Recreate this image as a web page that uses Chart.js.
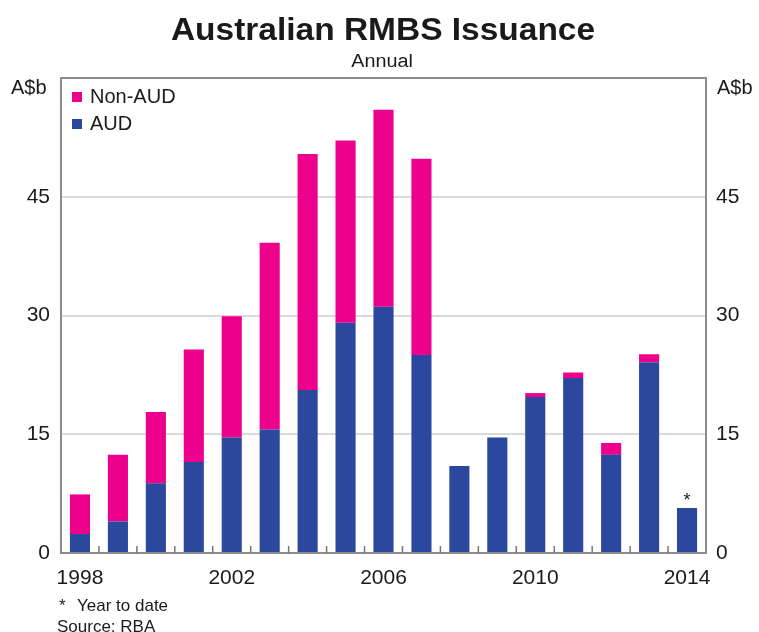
<!DOCTYPE html>
<html>
<head>
<meta charset="utf-8">
<script src="https://cdn.jsdelivr.net/npm/chart.js@4.4.1/dist/chart.umd.min.js"></script>
<style>
body{margin:0;background:#fff;}
#wrap{width:759px;height:632px;}
</style>
</head>
<body>
<div id="wrap"><canvas id="myChart"></canvas></div>
<script>
var years = ['1998','1999','2000','2001','2002','2003','2004','2005','2006','2007','2008','2009','2010','2011','2012','2013','2014'];
var aud = [2.4, 4.0, 8.8, 11.5, 14.6, 15.6, 20.6, 29.1, 31.1, 25.0, 11.0, 14.6, 19.7, 22.1, 12.4, 24.1, 5.7];
var nonAud = [5.0, 8.4, 9.0, 14.2, 15.3, 23.6, 29.8, 23.0, 24.9, 24.8, 0, 0, 0.5, 0.7, 1.5, 1.0, 0];
var yTicks = [0, 15, 30, 45, 60];
var shownYears = ['1998','2002','2006','2010','2014'];

var FONT = '"Liberation Sans", Arial, sans-serif';
var PINK = '#ec008c';
var BLUE = '#2b479e';

// title, unit labels, legend, frame, small inside ticks, footnotes
var extras = {
  id: 'extras',
  afterDraw: function(chart) {
    var c = chart.ctx;
    var a = chart.chartArea;
    var xs = chart.scales.x;
    var ys = chart.scales.y;
    c.save();
    c.fillStyle = '#1a1a1a';
    c.textAlign = 'center';
    c.textBaseline = 'middle';
    // reference text is a bit wider than Arial, stretch it slightly
    c.save();
    c.translate(383, 31);
    c.scale(1.08, 1);
    c.font = 'bold 31px ' + FONT;
    c.fillText('Australian RMBS Issuance', 0, 0);
    c.restore();
    c.save();
    c.translate(382, 62);
    c.scale(1.1, 1);
    c.font = '18px ' + FONT;
    c.fillText('Annual', 0, 0);
    c.restore();

    c.font = '20px ' + FONT;
    c.textAlign = 'left';
    c.fillText('A$b', 11, 88);
    c.fillText('A$b', 717, 88);

    // legend, pink first
    var items = [[chart.data.datasets[1].label, PINK], [chart.data.datasets[0].label, BLUE]];
    items.forEach(function(it, k) {
      var ly = 97 + k * 27;
      c.fillStyle = it[1];
      c.fillRect(72, ly - 5, 10, 10);
      c.fillStyle = '#1a1a1a';
      c.fillText(it[0], 90, ly);
    });

    // frame
    c.strokeStyle = '#8c8c8c';
    c.lineWidth = 2;
    c.strokeRect(a.left, a.top, a.right - a.left, a.bottom - a.top);

    // tick marks between the bars
    c.lineWidth = 1.5;
    c.strokeStyle = '#777';
    for (var i = 0; i < years.length - 1; i++) {
      var px = (xs.getPixelForValue(i) + xs.getPixelForValue(i + 1)) / 2;
      c.beginPath();
      c.moveTo(px, a.bottom);
      c.lineTo(px, a.bottom - 7);
      c.stroke();
    }

    // year-to-date star over last bar
    var last = years.length - 1;
    c.font = '18px ' + FONT;
    c.textAlign = 'center';
    c.fillText('*', xs.getPixelForValue(last), ys.getPixelForValue(aud[last] + nonAud[last]) - 7);

    // footnotes
    c.font = '17px ' + FONT;
    c.textAlign = 'left';
    c.fillText('*', 59, 606);
    c.fillText('Year to date', 77, 606);
    c.fillText('Source: RBA', 57, 627);
    c.restore();
  }
};

var ctx = document.getElementById('myChart').getContext('2d');
var myChart = new Chart(ctx, {
  type: 'bar',
  data: {
    labels: years,
    datasets: [{
      label: 'AUD',
      data: aud,
      backgroundColor: BLUE
    }, {
      label: 'Non-AUD',
      data: nonAud,
      backgroundColor: PINK
    }]
  },
  options: {
    responsive: true,
    maintainAspectRatio: false,
    animation: false,
    layout: { padding: { top: 78, left: 0, right: 0, bottom: 0 } },
    datasets: { bar: { barPercentage: 0.53, categoryPercentage: 1.0 } },
    plugins: {
      legend: { display: false },
      tooltip: { enabled: false }
    },
    scales: {
      x: {
        stacked: true,
        grid: { display: false, drawTicks: false },
        border: { display: false },
        ticks: {
          autoSkip: false,
          maxRotation: 0,
          padding: 13,
          color: '#1a1a1a',
          font: { family: FONT, size: 21 },
          callback: function(v, i) {
            return shownYears.indexOf(years[i]) >= 0 ? years[i] : '';
          }
        },
        afterFit: function(s) { s.height = 79; }
      },
      y: {
        stacked: true,
        position: 'left',
        min: 0,
        max: 60,
        afterBuildTicks: function(s) { s.ticks = yTicks.map(function(v) { return { value: v }; }); },
        grid: {
          drawTicks: false,
          lineWidth: 2,
          color: function(c) {
            return (c.tick && (c.tick.value === 0 || c.tick.value === 60)) ? 'rgba(0,0,0,0)' : '#dadada';
          }
        },
        border: { display: false },
        ticks: {
          padding: 11,
          color: '#1a1a1a',
          font: { family: FONT, size: 21 },
          callback: function(v) { return v === 60 ? '' : v; }
        },
        afterFit: function(s) { s.width = 61; }
      },
      y2: {
        position: 'right',
        min: 0,
        max: 60,
        afterBuildTicks: function(s) { s.ticks = yTicks.map(function(v) { return { value: v }; }); },
        grid: { drawOnChartArea: false, drawTicks: false },
        border: { display: false },
        ticks: {
          padding: 10,
          color: '#1a1a1a',
          font: { family: FONT, size: 21 },
          callback: function(v) { return v === 60 ? '' : v; }
        },
        afterFit: function(s) { s.width = 53; }
      }
    }
  },
  plugins: [extras]
});
</script>
</body>
</html>
